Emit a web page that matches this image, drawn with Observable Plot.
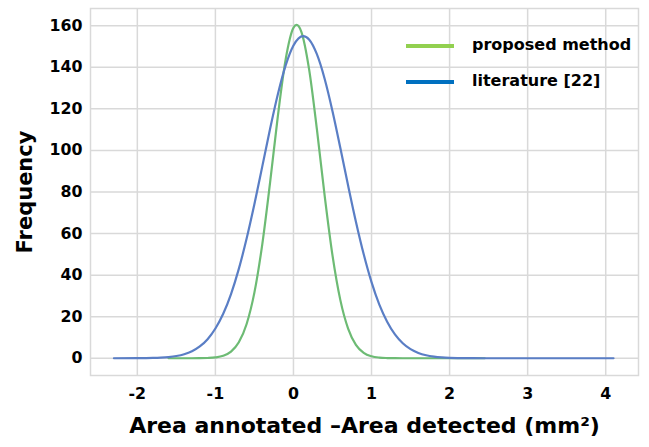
<!DOCTYPE html>
<html>
<head>
<meta charset="utf-8">
<script src="https://cdn.jsdelivr.net/npm/d3@7"></script>
<script src="https://cdn.jsdelivr.net/npm/@observablehq/plot@0.6"></script>
<style>
  html, body { margin: 0; padding: 0; background: #fff; }
  #wrap { position: relative; width: 649px; height: 447px; font-family: "DejaVu Sans", sans-serif; }
  .lg-line { position: absolute; width: 48px; height: 4px; }
  .lg-text { position: absolute; font-weight: bold; font-size: 16px; color: #000; line-height: 1; white-space: nowrap; }
</style>
</head>
<body>
<div id="wrap"></div>
<script>
// Series
const seriesNames = ["proposed method", "literature [22]"];
const seriesColors = ["#6dbb74", "#5a7ec5"];
const legendColors = ["#92d050", "#0070c0"];

const proposedX = [-1.6, -1.5, -1.4, -1.3, -1.2, -1.1, -1.0, -0.9, -0.8, -0.7, -0.6, -0.5, -0.4, -0.3, -0.2, -0.1, 0.0, 0.04, 0.1, 0.2, 0.3, 0.4, 0.5, 0.6, 0.7, 0.8, 0.9, 1.0, 1.1, 1.2, 1.3, 1.4, 1.6, 2.0, 2.45];
const proposedY = [0, 0, 0, 0.01, 0.03, 0.12, 0.39, 1.18, 3.18, 7.66, 16.5, 31.7, 54.7, 84.4, 116.5, 143.8, 159.0, 160.4, 157.2, 139.1, 110.2, 78.1, 49.5, 28.1, 14.3, 6.48, 2.64, 0.96, 0.31, 0.09, 0.02, 0.01, 0, 0, 0];

const literatureX = [-2.3, -2.0, -1.9, -1.8, -1.7, -1.6, -1.5, -1.4, -1.3, -1.2, -1.1, -1.0, -0.9, -0.8, -0.7, -0.6, -0.5, -0.4, -0.3, -0.2, -0.1, 0.0, 0.125, 0.2, 0.3, 0.4, 0.5, 0.6, 0.7, 0.8, 0.9, 1.0, 1.1, 1.2, 1.3, 1.4, 1.5, 1.6, 1.7, 1.8, 1.9, 2.0, 2.1, 2.3, 2.6, 3.0, 3.5, 4.1];
const literatureY = [0, 0.03, 0.07, 0.14, 0.29, 0.57, 1.07, 1.93, 3.37, 5.66, 9.16, 14.3, 21.4, 30.9, 43.0, 57.6, 74.2, 92.2, 110.3, 127.0, 140.9, 150.5, 155.0, 153.4, 146.3, 134.4, 118.9, 101.3, 83.1, 65.7, 50.0, 36.6, 25.8, 17.6, 11.5, 7.24, 4.39, 2.57, 1.44, 0.78, 0.41, 0.21, 0.10, 0.02, 0, 0, 0, 0];

const xTicks = [-2, -1, 0, 1, 2, 3, 4];
const yTicks = [0, 20, 40, 60, 80, 100, 120, 140, 160];
const xTitle = "Area annotated \u2013Area detected (mm\u00B2)";
const yTitle = "Frequency";

const data = [
  ...proposedX.map((x, i) => ({x, y: proposedY[i], s: seriesNames[0]})),
  ...literatureX.map((x, i) => ({x, y: literatureY[i], s: seriesNames[1]}))
];

const chart = Plot.plot({
  width: 649,
  height: 447,
  marginLeft: 90,
  marginRight: 11,
  marginTop: 8,
  marginBottom: 72,
  style: {fontFamily: "DejaVu Sans", fontSize: "15.8px", fontWeight: "bold", color: "#000", background: "#fff"},
  x: {domain: [-2.6, 4.42]},
  y: {domain: [-8.3, 168.3]},
  color: {domain: seriesNames, range: seriesColors},
  marks: [
    Plot.gridX(xTicks, {stroke: "#d9d9d9", strokeOpacity: 1, strokeWidth: 1.5}),
    Plot.gridY(yTicks, {stroke: "#d9d9d9", strokeOpacity: 1, strokeWidth: 1.5}),
    Plot.frame({stroke: "#d9d9d9", strokeWidth: 1.5}),
    Plot.axisX(xTicks, {tickSize: 0, tickPadding: 12, tickFormat: d => String(d), label: null}),
    Plot.axisY(yTicks, {tickSize: 0, tickPadding: 8, tickFormat: d => String(d), label: null}),
    Plot.line(data, {x: "x", y: "y", z: "s", stroke: "s", strokeWidth: 2.2, curve: "monotone-x"}),
    Plot.text([xTitle], {frameAnchor: "bottom", dy: 57, fontSize: 22, fontWeight: "bold", fill: "#000"}),
    Plot.text([yTitle], {frameAnchor: "left", dx: -65, rotate: -90, textAnchor: "middle", fontSize: 21, fontWeight: "bold", fill: "#000"})
  ]
});

const wrap = document.getElementById("wrap");
wrap.appendChild(chart);

// Legend (inside plot, top-right)
const legendRows = [45.7, 81.7];
seriesNames.forEach((name, i) => {
  const ln = document.createElement("div");
  ln.className = "lg-line";
  ln.style.left = "406px";
  ln.style.top = (legendRows[i] - 2) + "px";
  ln.style.background = legendColors[i];
  wrap.appendChild(ln);
  const tx = document.createElement("div");
  tx.className = "lg-text";
  tx.style.left = "472px";
  tx.style.top = (legendRows[i] - 9) + "px";
  tx.textContent = name;
  wrap.appendChild(tx);
});
</script>
</body>
</html>
